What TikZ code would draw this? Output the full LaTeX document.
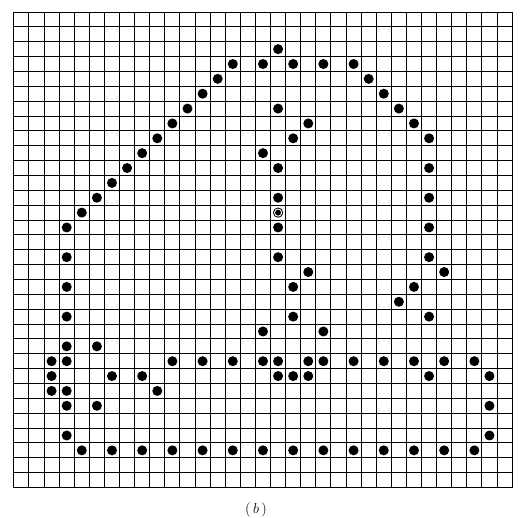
\documentclass[tikz,border=0pt]{standalone}
\usepackage{amsmath, amssymb}
\usepackage{tikz}

\begin{document}
\begin{tikzpicture}[
    x=15.1pt, y=-14.86pt,
    gridline/.style={line width=1pt, line cap=rect},
    pixel/.style={circle, fill=black, inner sep=0pt, minimum size=10pt},
    seed/.style={circle, fill=black, draw=black, double=white,
                 double distance=0.9pt, line width=0.95pt,
                 inner sep=0pt, minimum size=7.2pt}
  ]
  \useasboundingbox (-0.917,-0.808) rectangle (33.72,34.05);

  \foreach \col in {0,...,33}
    \draw[gridline] (\col,0) -- (\col,32);
  \foreach \row in {0,...,32}
    \draw[gridline] (0,\row) -- (33,\row);

  \foreach \c/\r in {17/2, 14/3, 16/3, 18/3, 20/3, 22/3, 13/4, 23/4,
      12/5, 24/5, 11/6, 17/6, 25/6, 10/7, 19/7, 26/7, 9/8, 18/8, 27/8,
      8/9, 16/9, 7/10, 17/10, 27/10, 6/11, 5/12, 17/12, 27/12, 4/13,
      3/14, 17/14, 27/14, 3/16, 17/16, 27/16, 19/17, 28/17,
      3/18, 18/18, 26/18, 25/19, 3/20, 18/20, 27/20, 16/21, 20/21,
      3/22, 5/22,
      2/23, 3/23, 10/23, 12/23, 14/23, 16/23, 17/23, 19/23, 20/23,
      22/23, 24/23, 26/23, 28/23, 30/23,
      2/24, 6/24, 8/24, 17/24, 18/24, 19/24, 27/24, 31/24,
      2/25, 3/25, 9/25, 3/26, 5/26, 31/26, 3/28, 31/28,
      4/29, 6/29, 8/29, 10/29, 12/29, 14/29, 16/29, 18/29, 20/29,
      22/29, 24/29, 26/29, 28/29, 30/29}
    \node[pixel] (p-\c-\r) at (\c+0.5,\r+0.5) {};

  \node[seed] (start) at (17.5,13.5) {};

  \node[font=\Large] (caption) at (16.04,33.5) {$(\,b\,)$};
\end{tikzpicture}
\end{document}
